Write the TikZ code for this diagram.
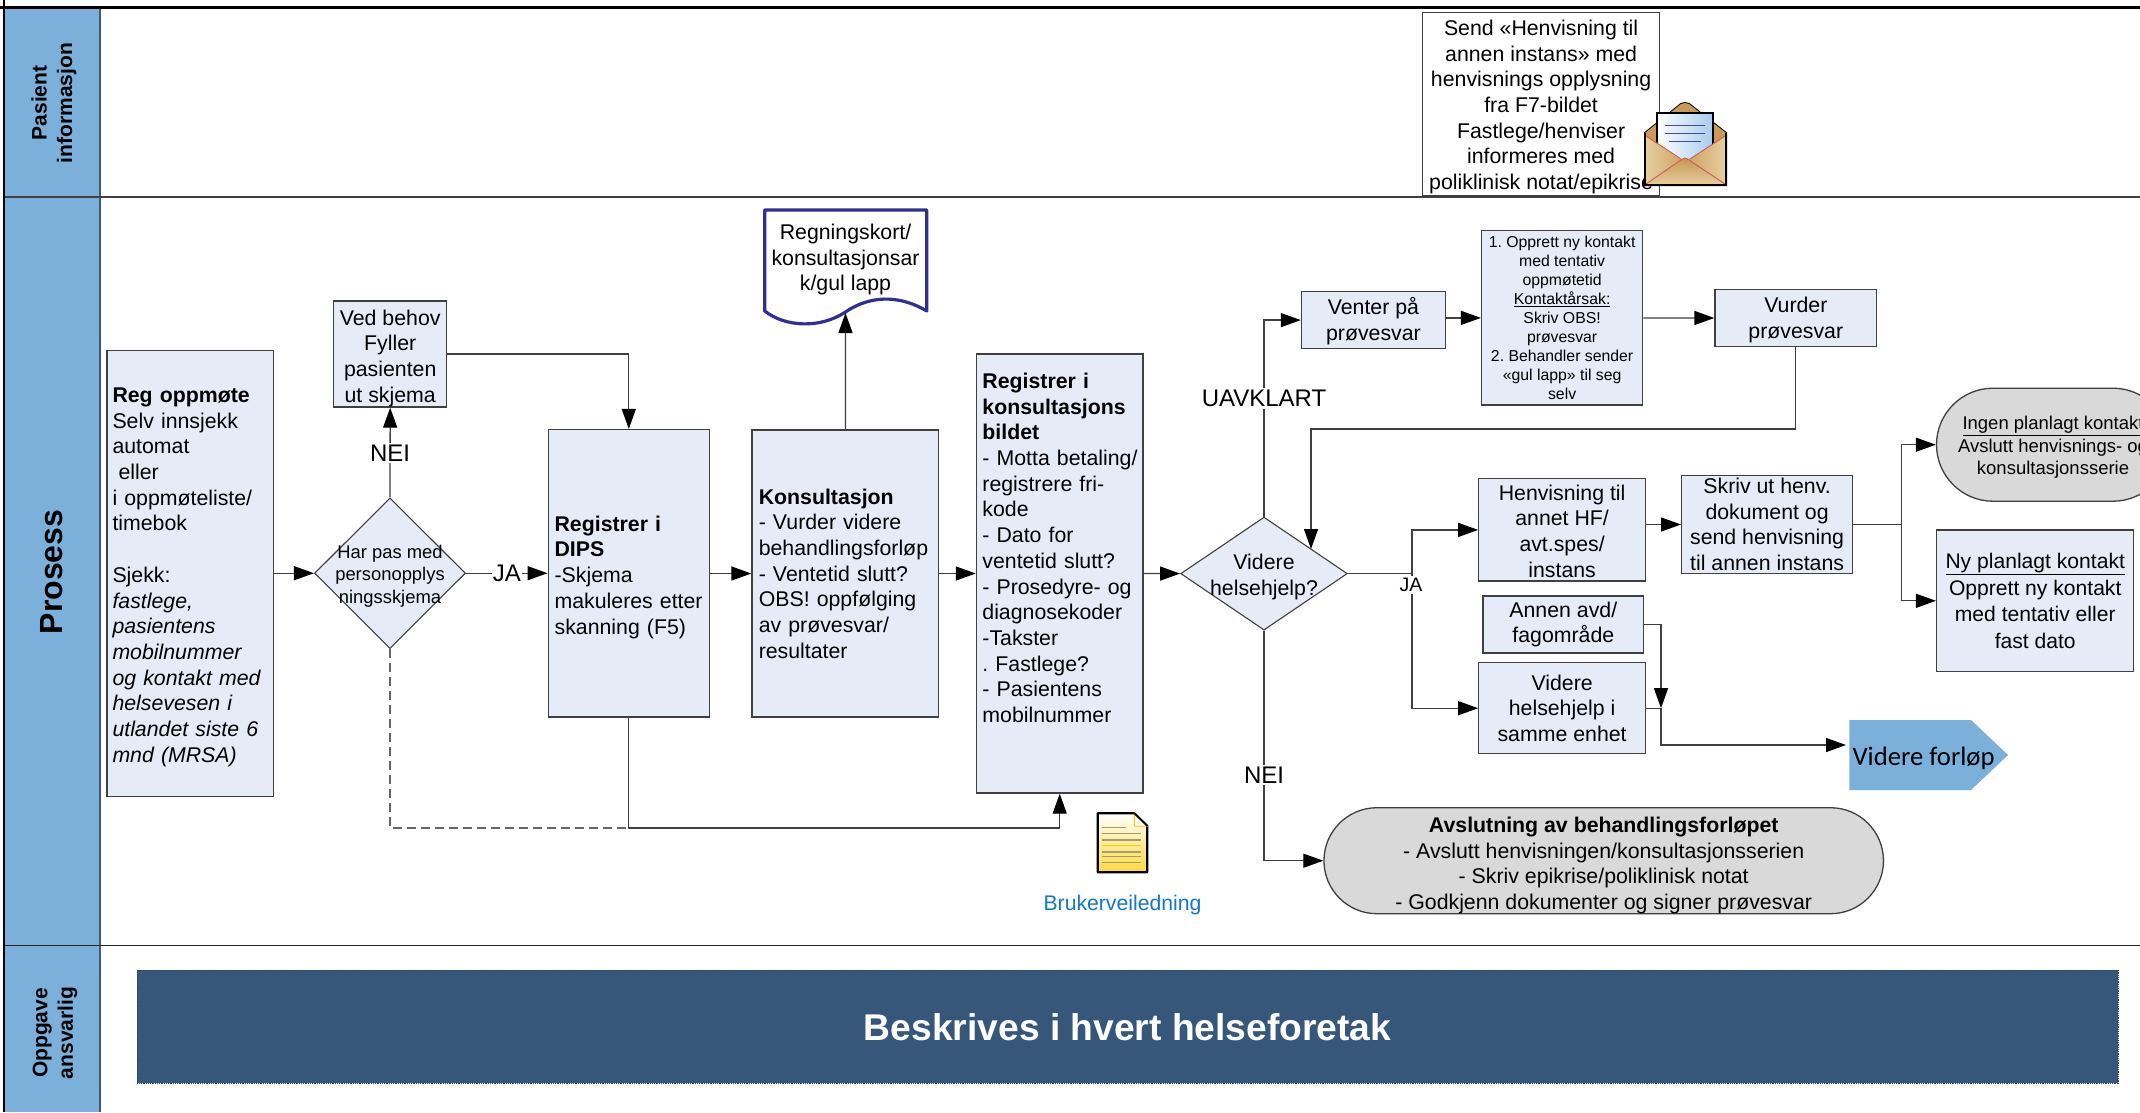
\documentclass[tikz,border=0pt]{standalone}
\usepackage{fontspec}
\setmainfont{Liberation Sans}
\newfontfamily\carlitofont{Carlito}
\usetikzlibrary{arrows.meta,shapes.geometric,shapes.misc}
\definecolor{boxfill}{HTML}{E5ECF7}
\definecolor{boxline}{HTML}{404040}
\definecolor{lanefill}{HTML}{7BB0DB}
\definecolor{laneedge}{HTML}{3A5A7E}
\definecolor{bandfill}{HTML}{365779}
\definecolor{greyfill}{HTML}{D9D9D9}
\definecolor{navyline}{HTML}{2E3192}
\definecolor{linkblue}{HTML}{1279C6}
\definecolor{lettblue}{HTML}{A4CDEE}
\newcommand{\fsz}[2]{\fontsize{#1}{#2}\selectfont}
\newcommand{\topstrut}[1]{\rule{0pt}{#1pt}}
\frenchspacing
\tikzset{
  x=1pt,y=-1pt,
  lbox/.style={draw=boxline,fill=boxfill,line width=1.3pt,align=left,anchor=center,inner ysep=0pt,font=\fsz{21.3}{25.7}},
  cbox/.style 2 args={draw=boxline,fill=boxfill,line width=1.3pt,align=center,anchor=center,inner sep=0pt,minimum width=#1pt,minimum height=#2pt,font=\fsz{21.3}{25.7}},
  dshape/.style 2 args={diamond,draw=boxline,fill=boxfill,line width=1.1pt,inner sep=0pt,aspect=1,minimum width=#1pt,minimum height=#2pt},
  rshape/.style 2 args={rounded rectangle,draw=boxline,fill=greyfill,line width=1.3pt,inner sep=0pt,align=center,minimum width=#1pt,minimum height=#2pt},
  conn/.style={draw=boxline,line width=1.3pt},
  arr/.style={conn,-{Triangle[length=20pt,width=14pt,color=black,fill=black]}},
  flowlabel/.style={fill=white,inner xsep=1pt,inner ysep=2pt,text=black,font=\fsz{24}{28}},
  lanetext/.style={rotate=90,align=center,font=\bfseries\fsz{21}{25.5}},
}
\begin{document}
\begin{tikzpicture}
\useasboundingbox (0,0) rectangle (2140,1112);
\clip (0,0) rectangle (2140,1112);
\fill[white] (0,0) rectangle (2140,1112);

% swimlanes
\fill[lanefill] (4,7.7) rectangle (100,1112);
\draw[laneedge,line width=1.6pt] (100,7.7) -- (100,1112);
\draw[boxline,line width=2pt] (4,196.7) -- (2140,196.7);
\draw[black!85,line width=1.6pt] (4,945.3) -- (2140,945.3);
\draw[black,line width=2.6pt] (0,7.7) -- (2140,7.7);
\draw[black,line width=2.2pt] (4,0) -- (4,1112);
\node[lanetext] (l1) at (54,103) {Pasient\\informasjon};
\node[lanetext,font=\bfseries\fsz{32}{36}] (l2) at (51.5,572) {Prosess};
\node[lanetext] (l3) at (55,1033) {Oppgave\\ansvarlig};

% band
\node[fill=bandfill,draw=bandfill!80!black,densely dotted,line width=.8pt,minimum width=1980.7pt,minimum height=113.3pt,inner sep=0pt,text=white,font=\bfseries\fsz{37.2}{42}] (band) at (1127.6,1026.6) {\topstrut{29}Beskrives i hvert helseforetak};

% patient info
\node[cbox={237}{183.4},fill=white] (send) at (1541.1,104.3) {\topstrut{21}Send «Henvisning til\\annen instans» med\\henvisnings opplysning\\fra F7-bildet\\Fastlege/henviser\\informeres med\\poliklinisk notat/epikrise};

% envelope
\begin{scope}
  \filldraw[fill=black!0,draw=black,line width=2pt] (1645,133) -- (1681,104) -- (1685,103) -- (1689,104) -- (1726,133) -- (1726,185) -- (1645,185) -- cycle;
  \fill[fill={rgb,255:red,201;green,154;blue,85}] (1645,133) -- (1681,104) -- (1685,103) -- (1689,104) -- (1726,133) -- (1726,170) -- (1645,170) -- cycle;
  \shade[left color=white,right color=lettblue,draw=black,line width=1.8pt] (1657,113) rectangle (1713,160);
  \draw[blue!45!gray,line width=1pt] (1665,125) -- (1705,125);
  \draw[blue!45!gray,line width=1pt] (1665,133) -- (1705,133);
  \draw[blue!45!gray,line width=1pt] (1669,141.5) -- (1701,141.5);
  \shade[left color={rgb,255:red,230;green,208;blue,160},right color={rgb,255:red,205;green,160;blue,95}] (1645,136) -- (1681,159) -- (1685,158) -- (1685,185) -- (1645,185) -- cycle;
  \shade[right color={rgb,255:red,230;green,208;blue,160},left color={rgb,255:red,205;green,160;blue,95}] (1726,136) -- (1690,159) -- (1685,158) -- (1685,185) -- (1726,185) -- cycle;
  \shade[top color={rgb,255:red,200;green,150;blue,85},bottom color={rgb,255:red,230;green,205;blue,155}] (1646,184) -- (1685,158) -- (1725,184) -- cycle;
  \draw[red!55!gray!80,line width=1pt] (1646,136) -- (1681,159);
  \draw[red!55!gray!80,line width=1pt] (1725,136) -- (1690,159);
  \draw[red!55!gray!80,line width=1pt] (1646,184) -- (1681,160) -- (1685,158) -- (1689,160) -- (1725,184);
  \draw[black,line width=2pt] (1645,133) -- (1645,185) -- (1726,185) -- (1726,133);
\end{scope}

% process boxes
\node[lbox,inner xsep=5.5pt,text width=155.6pt,minimum height=446pt] (reg) at (190.3,573.5) {\topstrut{22}\textbf{Reg oppmøte}\\Selv innsjekk\\automat\\\hspace{6pt}eller\\i oppmøteliste/\\timebok\\[25.7pt]Sjekk:\\\textit{fastlege,}\\\textit{pasientens}\\\textit{mobilnummer}\\\textit{og kontakt med}\\\textit{helsevesen i}\\\textit{utlandet siste 6}\\\textit{mnd (MRSA)}};
\node[cbox={112.9}{106}] (ved) at (390.2,354) {\topstrut{24}Ved behov\\Fyller\\pasienten\\ut skjema};
\node[dshape={151}{150.6},label={[align=center,font=\fsz{18.4}{22.5},yshift=-3pt]center:Har pas med\\personopplys\\ningsskjema}] (d1) at (390,573.2) {};
\node[lbox,inner xsep=6.4pt,text width=148.4pt,minimum height=287.4pt] (dips) at (628.8,573.3) {\topstrut{23}\textbf{Registrer i}\\\textbf{DIPS}\\-Skjema\\makuleres etter\\skanning (F5)};
\node[lbox,inner xsep=6.8pt,text width=173.2pt,minimum height=287pt] (kons) at (845.4,573.5) {\textbf{Konsultasjon}\\- Vurder videre\\behandlingsforløp\\- Ventetid slutt?\\OBS! oppfølging\\av prøvesvar/\\resultater};
\node[lbox,inner xsep=6pt,text width=154.6pt,minimum height=439pt] (regi) at (1059.7,573.5) {\textbf{Registrer i}\\\textbf{konsultasjons}\\\textbf{bildet}\\\mbox{- Motta betaling/}\\registrere fri-\\kode\\- Dato for\\ventetid slutt?\\- Prosedyre- og\\diagnosekoder\\-Takster\\. Fastlege?\\- Pasientens\\mobilnummer\\\mbox{}\\\mbox{}};
\node[dshape={166.7}{113},label={[align=center,font=\fsz{21.3}{25.7},yshift=-3.5pt]center:Videre\\helsehjelp?}] (d2) at (1264,573.6) {};

% bill document
\draw[navyline,fill=white,line width=3.2pt,line join=round] (764.7,210) -- (926.8,210) -- (926.8,311)
  .. controls (905,298) and (875,292) .. (845.5,312)
  .. controls (820,329) and (785,327) .. (764.7,311) -- cycle;
\node[align=center,inner sep=0pt,font=\fsz{21.3}{25.7}] (bill) at (845.5,254) {\topstrut{27}Regningskort/\\konsultasjonsar\\k/gul lapp};
\coordinate (billbottom) at (845.5,313);

% user guide icon
\shade[left color=white,right color=yellow!55!orange!60!white,top color=white,bottom color=yellow!60!orange!75!white,draw=black,line width=2.2pt,line join=round] (1097.7,813.3) -- (1134.3,813.3) -- (1147.3,826) -- (1147.3,872.3) -- (1097.7,872.3) -- cycle;
\draw[fill=white,draw=yellow!60!orange,line width=1pt] (1134.3,813.8) -- (1134.3,826) -- (1146.8,826) -- cycle;
\draw[black,line width=1.6pt] (1134.3,813.3) -- (1147.3,826);
\foreach \ly/\lx in {827.7/1125.7,833.7/1141,840/1141,852/1141,856.7/1141,862.7/1141}{
  \draw[yellow!45!black!75,line width=1.5pt] (1101.7,\ly) -- (\lx,\ly);
}
\draw[yellow!65!orange,line width=1.3pt] (1101.7,845.5) -- (1141,845.5);
\node[inner sep=0pt,text=linkblue,font=\fsz{21.2}{25}] (guide) at (1122.5,904) {\topstrut{18}Brukerveiledning};

% right-hand boxes
\node[cbox={143.9}{57.2}] (venter) at (1373.4,320.1) {\topstrut{19}Venter på\\prøvesvar};
\node[cbox={161}{174.2},font=\fsz{15.8}{19.1}] (opprett) at (1562.1,317.9) {1. Opprett ny kontakt\\med tentativ\\oppmøtetid\\\underline{Kontaktårsak:}\\Skriv OBS!\\prøvesvar\\2. Behandler sender\\«gul lapp» til seg\\selv};
\node[cbox={161.6}{56.6}] (vurder) at (1795.8,318) {\topstrut{19}Vurder\\prøvesvar};
\node[cbox={166.6}{102.2}] (henv) at (1562.1,529.9) {\topstrut{18}Henvisning til\\annet HF/\\avt.spes/\\instans};
\node[cbox={170.9}{97.6}] (skriv) at (1767.1,524.5) {Skriv ut henv.\\dokument og\\send henvisning\\til annen instans};
\node[cbox={160.6}{57}] (annen) at (1563.3,624.5) {Annen avd/\\fagområde};
\node[cbox={166.6}{91}] (hjelp) at (1562.1,708.2) {Videre\\helsehjelp i\\samme enhet};
\node[rshape={233}{113},font=\fsz{18.5}{22.4}] (ingen) at (2053,444.7) {\topstrut{19}\underline{Ingen planlagt kontakt}\\Avslutt henvisnings- og\\konsultasjonsserie};
\node[cbox={197.2}{141.7},font=\fsz{21.1}{26.5}] (ny) at (2035.2,600.8) {\underline{Ny planlagt kontakt}\\Opprett ny kontakt\\med tentativ eller\\fast dato};
\node[rshape={559.5}{106},font=\fsz{21.3}{25.5}] (avsl) at (1603.7,860.7) {\topstrut{25}\textbf{Avslutning av behandlingsforløpet}\\- Avslutt henvisningen/konsultasjonsserien\\- Skriv epikrise/poliklinisk notat\\- Godkjenn dokumenter og signer prøvesvar};
\fill[lanefill] (1849.3,720) -- (1971,720) -- (2008,755) -- (1971,790) -- (1849.3,790) -- cycle;
\node[anchor=west,inner sep=0pt,font=\carlitofont\fsz{26.7}{30}] (forlop) at (1852.3,758.5) {Videre forløp};

% connectors
\coordinate (fwdin) at (1846,745);
\coordinate (joinpt) at (1661,708.2);
\coordinate (uavc) at (d2.north |- venter.west);
\coordinate (neic) at (d2.south |- avsl.west);
\coordinate (retpt) at (1311,549);
\coordinate (jabranch) at (1412,573.6);
\coordinate (branch) at (1901.7,524.5);

\draw[arr] (reg.east |- d1.west) -- (d1.west);
\draw[arr] (d1.east) -- node[flowlabel,pos=.5]{JA} (d1.east -| dips.west);
\draw[arr] (d1.north) -- node[flowlabel,pos=.497]{NEI} (ved.south);
\draw[arr] (ved.east) -| (dips.north);
\draw[conn,dash pattern=on 9pt off 5pt,draw=black!60] (d1.south) |- (regi.south |- 0,828);
\draw[arr] (dips.south) |- (1059.7,828) -- (regi.south);
\draw[arr] (dips.east |- kons.west) -- (kons.west);
\draw[arr] (kons.north) -- (billbottom);
\draw[arr] (kons.east) -- (regi.west);
\draw[arr] (regi.east) -- (d2.west);
\draw[arr] (d2.north) -- node[flowlabel,pos=.6]{UAVKLART} (uavc) -- (venter.west);
\draw[arr] (d2.south) -- node[flowlabel,pos=.628]{NEI} (neic) -- (avsl.west);
\draw[arr] (venter.east |- opprett.west) -- (opprett.west);
\draw[arr] (opprett.east) -- (vurder.west);
\draw[arr] (vurder.south) |- (1311,429) -- (retpt);
\draw[conn] (d2.east) -- (jabranch);
\draw[arr] (jabranch) |- (henv.west);
\draw[arr] (jabranch) |- (hjelp.west);
\node[flowlabel,font=\fsz{19.5}{23}] (jalabel) at (1411,585) {JA};
\draw[arr] (henv.east |- skriv.west) -- (skriv.west);
\draw[conn] (skriv.east) -- (branch);
\draw[arr] (branch) |- (ingen.west);
\draw[arr] (branch) |- (ny.west);
\draw[arr] (annen.east) -| (joinpt);
\draw[arr] (hjelp.east) -- (joinpt) |- (fwdin);
\end{tikzpicture}
\end{document}
